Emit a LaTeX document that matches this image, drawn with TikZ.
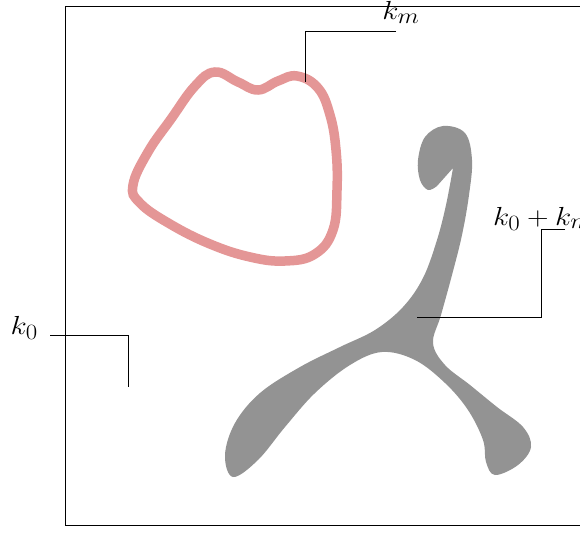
\documentclass[tikz,border=0pt]{standalone}
\usepackage{amssymb,amsmath,graphicx}

\definecolor{loopred}{RGB}{228,150,150}
\definecolor{wishgray}{RGB}{147,147,147}

\newcommand{\setlbl}[1]{\scalebox{1.2}[1.05]{$#1$}}

\tikzset{
  lbl/.style={font=\Huge, inner sep=0pt},
  lead/.style={line width=1pt}
}

\begin{document}
\begin{tikzpicture}[x=1pt,y=-1pt]
        \useasboundingbox (0,0) rectangle (580,532);
        \draw[line width=1pt] (65,7) rectangle (600,525);
        % the loop k_m
        \draw[line width=9.5pt,loopred] plot[smooth cycle, tension=0.7] coordinates
        {(215,72) (238,82) (258,90) (278,81) (297,76) (318,88) (330,115) (336,150)
         (337,190) (333,230) (315,254) (285,261) (250,257) (210,244) (170,224)
         (140,203) (133,185) (148,152) (171,119) (195,86)};
        % the blob k_0+k_m, corner at the tip of the hook
        \fill[wishgray] plot[smooth, tension=0.6] coordinates
        {(453,168) (446,205) (437,240) (423,278) (403,307) (375,330) (340,347)
         (300,367) (260,393) (235,423) (225,455) (233,477) (258,460) (285,427)
         (315,393) (350,365) (382,352) (415,360) (445,383) (468,410) (483,440)
         (486,462) (495,475) (518,465) (531,447) (523,427) (497,407) (470,385)
         (445,365) (433,343) (441,315) (452,275) (462,235) (469,195) (472,160)
         (465,133) (443,126) (425,137) (418,160) (420,180) (428,190) (437,186)}
         -- cycle;
        \coordinate (m) at (305,82);
        \coordinate (mk) at (417,317);
        \coordinate (o) at (128,387);
        \node[lbl,anchor=base] (km) at (401,20) {\setlbl{k_m}};
        \node[lbl,anchor=base west] (kk) at (493,225) {\setlbl{k_0+k_m}};
        \node[lbl,anchor=base east] (ko) at (38,334) {\setlbl{k_0}};
        \draw[lead] ([xshift=-5,yshift=-12]km.base) -| (m);
        \draw[lead] ([xshift=72,yshift=-4]kk.base west) -| ++(-24,88) -- (mk);
        \draw[lead] ([xshift=12,yshift=-1]ko.base east) -| (o);
\end{tikzpicture}
\end{document}
